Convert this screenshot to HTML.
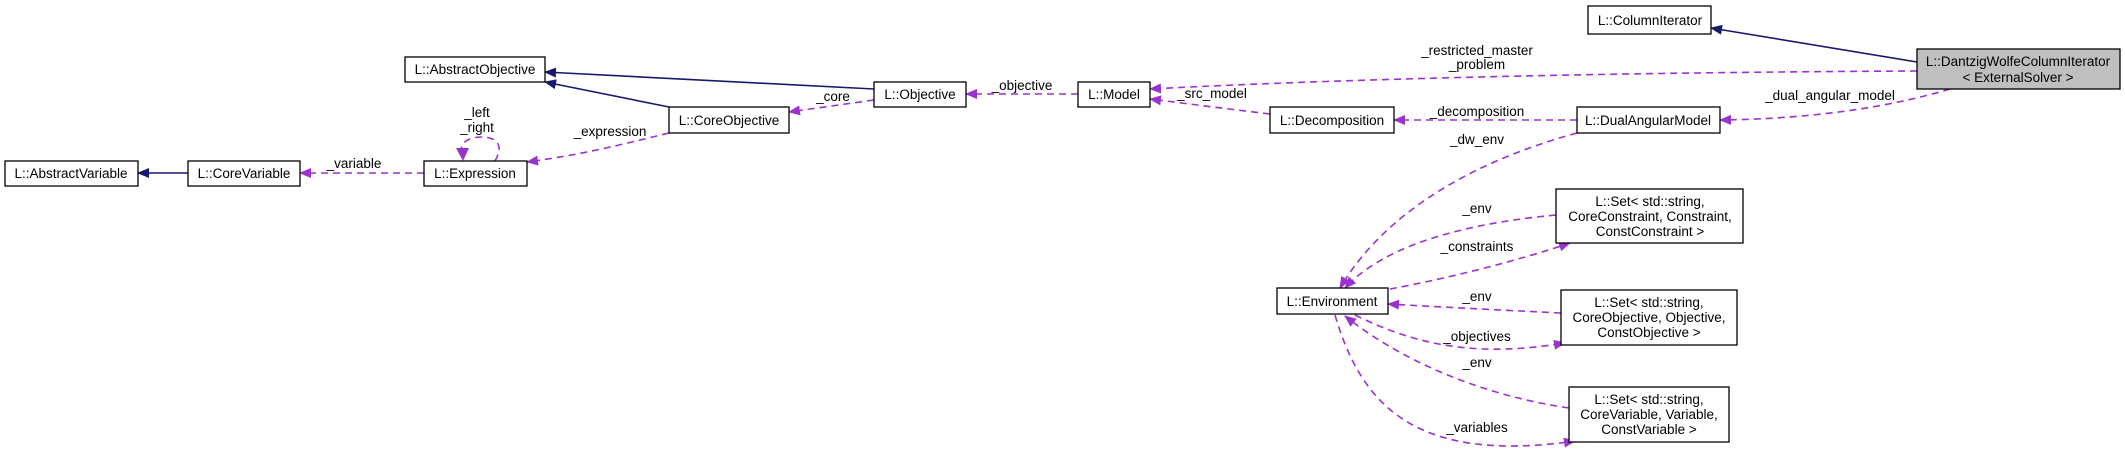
<!DOCTYPE html>
<html><head><meta charset="utf-8"><style>
html,body{margin:0;padding:0;background:#fff;width:2125px;height:459px;overflow:hidden}
svg text{font-family:"Liberation Sans",sans-serif;font-size:13.5px;fill:#000}
</style></head><body>
<svg width="2125" height="459" xmlns="http://www.w3.org/2000/svg">
<defs>
<marker id="n" markerWidth="12" markerHeight="10" refX="11" refY="5" orient="auto" markerUnits="userSpaceOnUse"><path d="M0,0 L12,5 L0,10 z" fill="#191970"/></marker>
<marker id="p" markerWidth="12" markerHeight="10" refX="11" refY="5" orient="auto" markerUnits="userSpaceOnUse"><path d="M0,0 L12,5 L0,10 z" fill="#9a32cd"/></marker>
</defs>
<g fill="none" stroke="#191970" stroke-width="1.6">
<path d="M1917,62 L1711,28" marker-end="url(#n)"/>
<path d="M874,89 L545,72" marker-end="url(#n)"/>
<path d="M669,107 L545,82" marker-end="url(#n)"/>
<path d="M188,173 L138,173" marker-end="url(#n)"/>
</g>
<g fill="none" stroke="#9a32cd" stroke-width="1.6" stroke-dasharray="7,5">
<path d="M1917,71 C1700,72 1400,76 1150,89" marker-end="url(#p)"/>
<path d="M1950,89 C1880,110 1800,119 1720,120" marker-end="url(#p)"/>
<path d="M1078,94 L966,94" marker-end="url(#p)"/>
<path d="M874,100 L789,112" marker-end="url(#p)"/>
<path d="M669,133 C620,145 580,155 527,162" marker-end="url(#p)"/>
<path d="M495,161 C505,144 495,137 482,137 C468,137 458,143 462,156"/>
<path d="M424,173 L300,173" marker-end="url(#p)"/>
<path d="M1270,114 C1220,108 1190,104 1150,99" marker-end="url(#p)"/>
<path d="M1577,120 L1394,120" marker-end="url(#p)"/>
<path d="M1577,133 C1460,165 1380,220 1340,288" marker-end="url(#p)"/>
<path d="M1556,215 C1450,225 1380,250 1345,288" marker-end="url(#p)"/>
<path d="M1390,289 C1450,278 1520,260 1570,243" marker-end="url(#p)"/>
<path d="M1561,313 C1500,310 1440,307 1388,304" marker-end="url(#p)"/>
<path d="M1355,315 C1420,347 1480,357 1565,343" marker-end="url(#p)"/>
<path d="M1569,408 C1480,395 1400,360 1345,316" marker-end="url(#p)"/>
<path d="M1335,315 C1360,400 1410,465 1575,441" marker-end="url(#p)"/>
</g>
<path d="M463,161 L456,148 L469,148 z" fill="#9a32cd"/>
<g stroke="#000" stroke-width="1.3">
<rect x="1588" y="6" width="123" height="28" fill="#fff"/>
<rect x="1917" y="49" width="203" height="40" fill="#bfbfbf"/>
<rect x="405" y="57" width="140" height="25" fill="#fff"/>
<rect x="874" y="82" width="92" height="25" fill="#fff"/>
<rect x="1078" y="82" width="72" height="25" fill="#fff"/>
<rect x="1270" y="107" width="124" height="26" fill="#fff"/>
<rect x="1577" y="107" width="143" height="26" fill="#fff"/>
<rect x="669" y="107" width="120" height="26" fill="#fff"/>
<rect x="5" y="161" width="133" height="25" fill="#fff"/>
<rect x="188" y="161" width="112" height="25" fill="#fff"/>
<rect x="424" y="161" width="103" height="25" fill="#fff"/>
<rect x="1277" y="288" width="111" height="26" fill="#fff"/>
<rect x="1556" y="189" width="187" height="54" fill="#fff"/>
<rect x="1561" y="290" width="176" height="55" fill="#fff"/>
<rect x="1569" y="387" width="160" height="55" fill="#fff"/>
</g>
<g text-anchor="middle">
<text x="1650" y="25">L::ColumnIterator</text>
<text x="2018" y="66">L::DantzigWolfeColumnIterator</text>
<text x="2018" y="82">&lt; ExternalSolver &gt;</text>
<text x="475" y="74">L::AbstractObjective</text>
<text x="920" y="99">L::Objective</text>
<text x="1114" y="99">L::Model</text>
<text x="1332" y="125">L::Decomposition</text>
<text x="1648" y="125">L::DualAngularModel</text>
<text x="729" y="125">L::CoreObjective</text>
<text x="71" y="178">L::AbstractVariable</text>
<text x="244" y="178">L::CoreVariable</text>
<text x="475" y="178">L::Expression</text>
<text x="1332" y="306">L::Environment</text>
<text x="1650" y="206">L::Set&lt; std::string,</text>
<text x="1650" y="221">CoreConstraint, Constraint,</text>
<text x="1650" y="236">ConstConstraint &gt;</text>
<text x="1649" y="307">L::Set&lt; std::string,</text>
<text x="1649" y="322">CoreObjective, Objective,</text>
<text x="1649" y="337">ConstObjective &gt;</text>
<text x="1649" y="404">L::Set&lt; std::string,</text>
<text x="1649" y="419">CoreVariable, Variable,</text>
<text x="1649" y="434">ConstVariable &gt;</text>
<text x="1477" y="55">_restricted_master</text>
<text x="1477" y="69">_problem</text>
<text x="1830" y="100">_dual_angular_model</text>
<text x="1022" y="90">_objective</text>
<text x="833" y="101">_core</text>
<text x="610" y="136">_expression</text>
<text x="477" y="117">_left</text>
<text x="477" y="132">_right</text>
<text x="354" y="168">_variable</text>
<text x="1212" y="98">_src_model</text>
<text x="1477" y="116">_decomposition</text>
<text x="1477" y="144">_dw_env</text>
<text x="1477" y="213">_env</text>
<text x="1477" y="251">_constraints</text>
<text x="1477" y="301">_env</text>
<text x="1477" y="341">_objectives</text>
<text x="1477" y="367">_env</text>
<text x="1477" y="432">_variables</text>
</g>
</svg>
</body></html>
